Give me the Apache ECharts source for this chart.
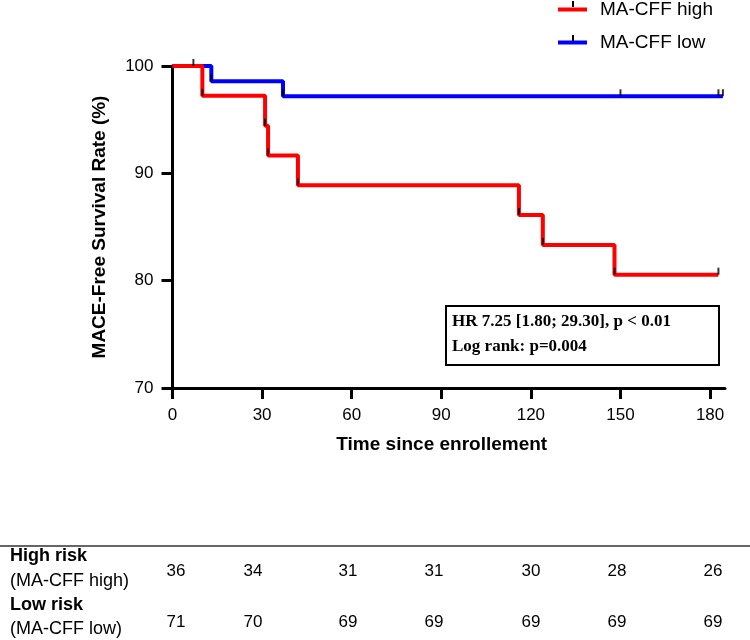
<!DOCTYPE html>
<html>
<head>
<meta charset="utf-8">
<script src="https://cdn.jsdelivr.net/npm/echarts@6/dist/echarts.min.js"></script>
<style>
  html, body { margin: 0; padding: 0; background: #fff; }
  #main { width: 750px; height: 640px; }
</style>
</head>
<body>
<div id="main"></div>
<script>
// Kaplan-Meier steps: [day, survival %]
var highCurve = [[0, 100], [10, 97.22], [31, 94.44], [32, 91.67], [42, 88.89], [116, 86.11], [124, 83.33], [148, 80.56], [182.8, 80.56]];
var lowCurve = [[0, 100], [13, 98.59], [37, 97.18], [184.3, 97.18]];
// censor marks
var highCensor = [[7, 100], [10, 97.22], [31, 94.44], [32, 91.67], [42, 88.89], [116, 86.11], [124, 83.33], [148, 80.56], [182.8, 80.56]];
var lowCensor = [[13, 98.59], [37, 97.18], [150, 97.18], [182.8, 97.18], [184.3, 97.18]];

var xTicks = [0, 30, 60, 90, 120, 150, 180];
var seriesNames = ['MA-CFF high', 'MA-CFF low'];
var statLines = ['HR 7.25 [1.80; 29.30], p < 0.01', 'Log rank: p=0.004'];

// number at risk table
var riskRows = ['High risk', 'Low risk'];
var riskSub = ['(MA-CFF high)', '(MA-CFF low)'];
var highRisk = [36, 34, 31, 31, 30, 28, 26];
var lowRisk = [71, 70, 69, 69, 69, 69, 69];

var sans = 'Liberation Sans, Arial, sans-serif';
var serif = 'Liberation Serif, Times New Roman, serif';

// table layout (pixels)
var colX = [176, 253, 348, 434, 531, 617, 713];
var rowNumY = [571, 622];
var rowLabelY = [[556, 581], [605, 629]];

var chart = echarts.init(document.getElementById('main'));

var graphics = [];
// stats box
graphics.push({
    type: 'rect', shape: { x: 446, y: 306, width: 273, height: 59 },
    style: { fill: '#fff', stroke: '#000', lineWidth: 2 }, z: 10
});
statLines.forEach(function (t, i) {
    graphics.push({
        type: 'text', x: 452, y: 322 + i * 25, z: 11,
        style: { text: t, font: 'bold 17px ' + serif, fill: '#000', textVerticalAlign: 'middle' }
    });
});
// legend censor ticks
[8, 42].forEach(function (y) {
    graphics.push({ type: 'rect', shape: { x: 572, y: y - 7, width: 2, height: 6 }, style: { fill: '#000' }, z: 20 });
});
// table separator
graphics.push({
    type: 'line', shape: { x1: 0, y1: 546, x2: 750, y2: 546 },
    style: { stroke: '#333', lineWidth: 1.5 }
});
[highRisk, lowRisk].forEach(function (row, r) {
    graphics.push({
        type: 'text', x: 10, y: rowLabelY[r][0],
        style: { text: riskRows[r], font: 'bold 18px ' + sans, fill: '#000', textVerticalAlign: 'middle' }
    });
    graphics.push({
        type: 'text', x: 10, y: rowLabelY[r][1],
        style: { text: riskSub[r], font: '18px ' + sans, fill: '#000', textVerticalAlign: 'middle' }
    });
    row.forEach(function (v, i) {
        graphics.push({
            type: 'text', x: colX[i], y: rowNumY[r],
            style: { text: String(v), font: '17px ' + sans, fill: '#000', textAlign: 'center', textVerticalAlign: 'middle' }
        });
    });
});

var option = {
    animation: false,
    backgroundColor: '#fff',
    grid: { left: 172.5, right: 25, top: 66, bottom: 252, outerBoundsMode: 'none' },
    legend: {
        orient: 'vertical', left: 558, top: 0, padding: 0,
        itemWidth: 29, itemHeight: 4, itemGap: 14,
        textStyle: { fontSize: 19, fontFamily: sans, color: '#000', padding: [0, 0, 0, 8] },
        data: [{ name: seriesNames[0], icon: 'rect' }, { name: seriesNames[1], icon: 'rect' }]
    },
    xAxis: {
        type: 'value', min: 0, max: 185,
        axisLine: { lineStyle: { color: '#000', width: 3 } },
        axisTick: { length: 11, lineStyle: { color: '#000', width: 3 }, customValues: xTicks },
        axisLabel: { customValues: xTicks, fontSize: 17, fontFamily: sans, color: '#000', margin: 19 },
        splitLine: { show: false },
        name: 'Time since enrollement', nameLocation: 'middle', nameGap: 47,
        nameTextStyle: { fontSize: 19, fontWeight: 'bold', fontFamily: sans, color: '#000', padding: [0, 14, 0, 0] }
    },
    yAxis: {
        type: 'value', min: 70, max: 100, interval: 10,
        axisLine: { show: true, lineStyle: { color: '#000', width: 3 } },
        axisTick: { show: true, length: 11, lineStyle: { color: '#000', width: 3 } },
        axisLabel: { fontSize: 17, fontFamily: sans, color: '#000', margin: 19 },
        splitLine: { show: false },
        name: 'MACE-Free Survival Rate (%)', nameLocation: 'middle', nameGap: 63,
        nameTextStyle: { fontSize: 19, fontWeight: 'bold', fontFamily: sans, color: '#000' }
    },
    series: [
        {
            name: seriesNames[1], type: 'line', step: 'end', data: lowCurve, symbol: 'none',
            itemStyle: { color: '#0000ff' }, lineStyle: { color: '#0000ff', width: 4 }, z: 2
        },
        {
            name: seriesNames[0], type: 'line', step: 'end', data: highCurve, symbol: 'none',
            itemStyle: { color: '#ff0000' }, lineStyle: { color: '#ff0000', width: 4 }, z: 3
        },
        {
            type: 'scatter', data: highCensor.concat(lowCensor), symbol: 'rect',
            symbolSize: [2, 7], symbolOffset: [0, -3.5], itemStyle: { color: '#000' }, z: 5,
            silent: true
        }
    ],
    graphic: graphics
};

chart.setOption(option);
</script>
</body>
</html>
